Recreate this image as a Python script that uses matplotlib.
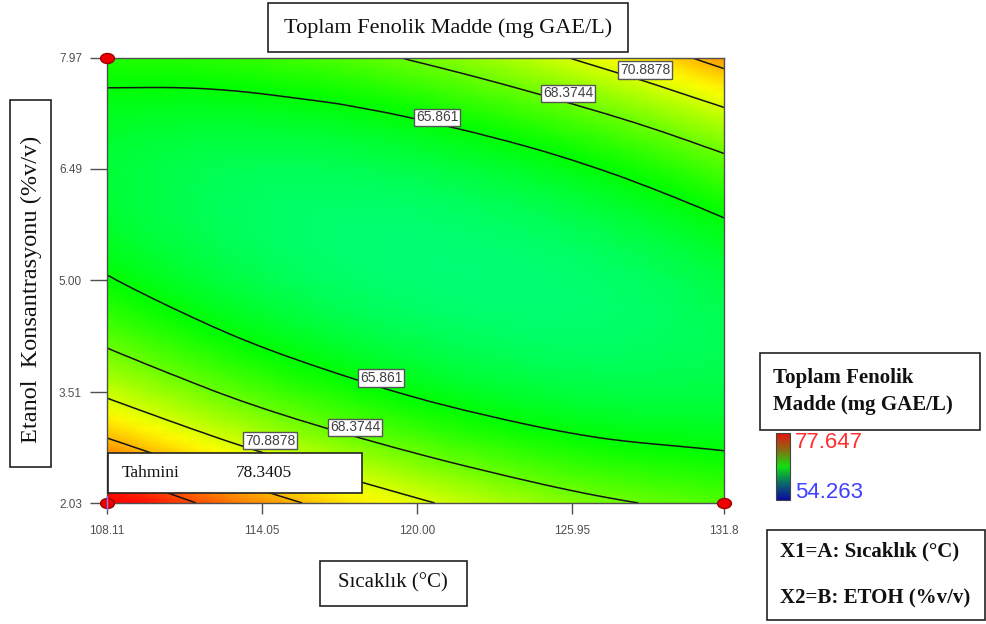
# -*- coding: utf-8 -*-
import numpy as np
import matplotlib
matplotlib.use('Agg')
import matplotlib.pyplot as plt
import matplotlib.tri as mtri
import matplotlib.colorbar as mcolorbar
from matplotlib.colors import LinearSegmentedColormap, Normalize
from matplotlib.patches import Rectangle
from matplotlib.path import Path
from matplotlib.transforms import Affine2D

# eksenler: sicaklik (C) ve etanol (%v/v)
sicaklik = [108.11, 112.06, 116.01, 119.96, 123.90, 127.85, 131.80]
etanol = [2.03, 3.02, 4.01, 5.00, 5.99, 6.98, 7.97]

# toplam fenolik madde (mg GAE/L); satir = etanol, sutun = sicaklik
tfm = [
    [78.34, 75.55, 73.18, 71.21, 69.65, 68.51, 67.77],
    [72.78, 70.50, 68.62, 67.16, 66.10, 65.45, 65.22],
    [68.67, 66.88, 65.51, 64.55, 63.99, 63.85, 64.11],
    [66.00, 64.72, 63.84, 63.38, 63.33, 63.68, 64.45],
    [64.78, 63.99, 63.62, 63.66, 64.11, 64.96, 66.23],
    [65.00, 64.71, 64.84, 65.38, 66.33, 67.69, 69.46],
    [66.66, 66.88, 67.51, 68.55, 70.00, 71.86, 74.13],
]

seviyeler = [65.861, 68.3744, 70.8878, 73.4012, 75.9146]
etiketli = [65.861, 68.3744, 70.8878]
renk_min, renk_max = 54.263, 77.647
tahmini = 78.3405

x_ticks = [108.11, 114.05, 120.00, 125.95, 131.8]
x_tick_labels = ['108.11', '114.05', '120.00', '125.95', '131.8']
y_ticks = [2.03, 3.51, 5.00, 6.49, 7.97]
y_tick_labels = ['2.03', '3.51', '5.00', '6.49', '7.97']

# deney noktalari
nokta_x = [108.11, 108.11, 131.8]
nokta_y = [7.97, 2.03, 2.03]
tahmin_x, tahmin_y = 108.11, 2.03

W, H = 987, 624
fig = plt.figure(figsize=(W / 100, H / 100), dpi=100)
ax = fig.add_axes([107 / W, 1 - 503 / H, 617 / W, 445 / H])

X, Y = np.meshgrid(sicaklik, etanol)
tri = mtri.Triangulation(X.ravel(), Y.ravel())
refiner = mtri.UniformTriRefiner(tri)
tri_i, z_i = refiner.refine_field(np.array(tfm).ravel(), subdiv=3)

cmap = LinearSegmentedColormap.from_list(
    'de', ['#0000ff', '#00ffff', '#00ff00', '#ffff00', '#ff0000'])
ax.tripcolor(tri_i, z_i, cmap=cmap, vmin=renk_min, vmax=renk_max,
             shading='gouraud')
cs = ax.tricontour(tri_i, z_i, levels=seviyeler, colors='#151515',
                   linewidths=1.1)

# etiket yerleri
yerler = [(120.78, 7.18), (125.81, 7.50), (128.77, 7.81),
          (118.63, 3.70), (117.63, 3.04), (114.37, 2.86)]
fmt = {65.861: '65.861', 68.3744: '68.3744', 70.8878: '70.8878'}
etiketler = ax.clabel(cs, levels=etiketli, manual=yerler, inline=False,
                      fmt=fmt, fontsize=10, colors='#404040')
for t, p in zip(etiketler, yerler):
    t.set_position(p)
    t.set_rotation(0)
    t.set_family('Liberation Sans')
    t.set_bbox(dict(boxstyle='square,pad=0.12', facecolor='white',
                    edgecolor='#555555', linewidth=1.0))

# kirmizi noktalar
elips = Path.unit_circle().transformed(Affine2D().scale(1.0, 0.72))
ax.plot(nokta_x, nokta_y, ls='none', marker=elips, markersize=10,
        color='#ee0000', markeredgecolor='#a00000', clip_on=False, zorder=6)
ax.plot([tahmin_x], [tahmin_y], ls='none', marker='|', markersize=10,
        color='#8080ff', clip_on=False, zorder=7)

ax.set_xlim(108.11, 131.8)
ax.set_ylim(2.03, 7.97)
ax.set_xticks(x_ticks, x_tick_labels)
ax.set_yticks(y_ticks, y_tick_labels)
ax.tick_params(axis='y', direction='out', length=12, width=1, pad=6,
               color='#505050', labelcolor='#505050', labelsize=8.5)
ax.tick_params(axis='x', direction='out', length=8, width=1, pad=8,
               color='#505050', labelcolor='#505050', labelsize=8.5)
for t in ax.get_xticklabels() + ax.get_yticklabels():
    t.set_family('Liberation Sans')
for s in ax.spines.values():
    s.set_color('#505050')
    s.set_linewidth(1.0)


def kutu(x0, y0, x1, y1):
    fig.add_artist(Rectangle((x0 / W, 1 - y1 / H), (x1 - x0) / W, (y1 - y0) / H,
                             transform=fig.transFigure, facecolor='white',
                             edgecolor='#222222', linewidth=1.2, zorder=5))


def yazi(x, y, s, **kw):
    kw.setdefault('family', 'Liberation Serif')
    kw.setdefault('va', 'center')
    kw.setdefault('color', '#111111')
    fig.text(x / W, 1 - y / H, s, zorder=6, **kw)


kutu(268, 3, 628, 52)
yazi(448, 28, 'Toplam Fenolik Madde (mg GAE/L)', ha='center', size=16)

kutu(10, 100, 51, 467)
yazi(31, 289, 'Etanol  Konsantrasyonu (%v/v)', ha='center', size=17.5,
     rotation=90)

kutu(320, 561, 467, 606)
yazi(393, 583, 'Sıcaklık (°C)', ha='center', size=15)

kutu(108, 453, 362, 493)
yazi(122, 473, 'Tahmini', ha='left', size=12.5)
yazi(236, 473, '{:.4f}'.format(tahmini), ha='left', size=12.5)

kutu(760, 353, 980, 430)
yazi(773, 378, 'Toplam Fenolik', ha='left', size=15, weight='bold')
yazi(773, 405, 'Madde (mg GAE/L)', ha='left', size=15, weight='bold')

# renk cubugu
cax = fig.add_axes([776 / W, 1 - 500 / H, 14 / W, 67 / H])
cb_cmap = LinearSegmentedColormap.from_list(
    'cb', ['#0a0aa0', '#0a6a6a', '#10e010', '#8a6a10', '#e81010'])
cb = mcolorbar.ColorbarBase(cax, cmap=cb_cmap,
                            norm=Normalize(renk_min, renk_max))
cb.set_ticks([])
cb.outline.set_edgecolor('#444444')
yazi(795, 443, '{:.3f}'.format(renk_max), ha='left', size=16,
     family='Liberation Sans', color='#ff3030')
yazi(795, 493, '{:.3f}'.format(renk_min), ha='left', size=16,
     family='Liberation Sans', color='#4040ff')

kutu(767, 530, 985, 620)
yazi(780, 551, 'X1=A: Sıcaklık (°C)', ha='left', size=15, weight='bold')
yazi(780, 598, 'X2=B: ETOH (%v/v)', ha='left', size=15, weight='bold')

fig.savefig('out.png', dpi=100, facecolor='white')
